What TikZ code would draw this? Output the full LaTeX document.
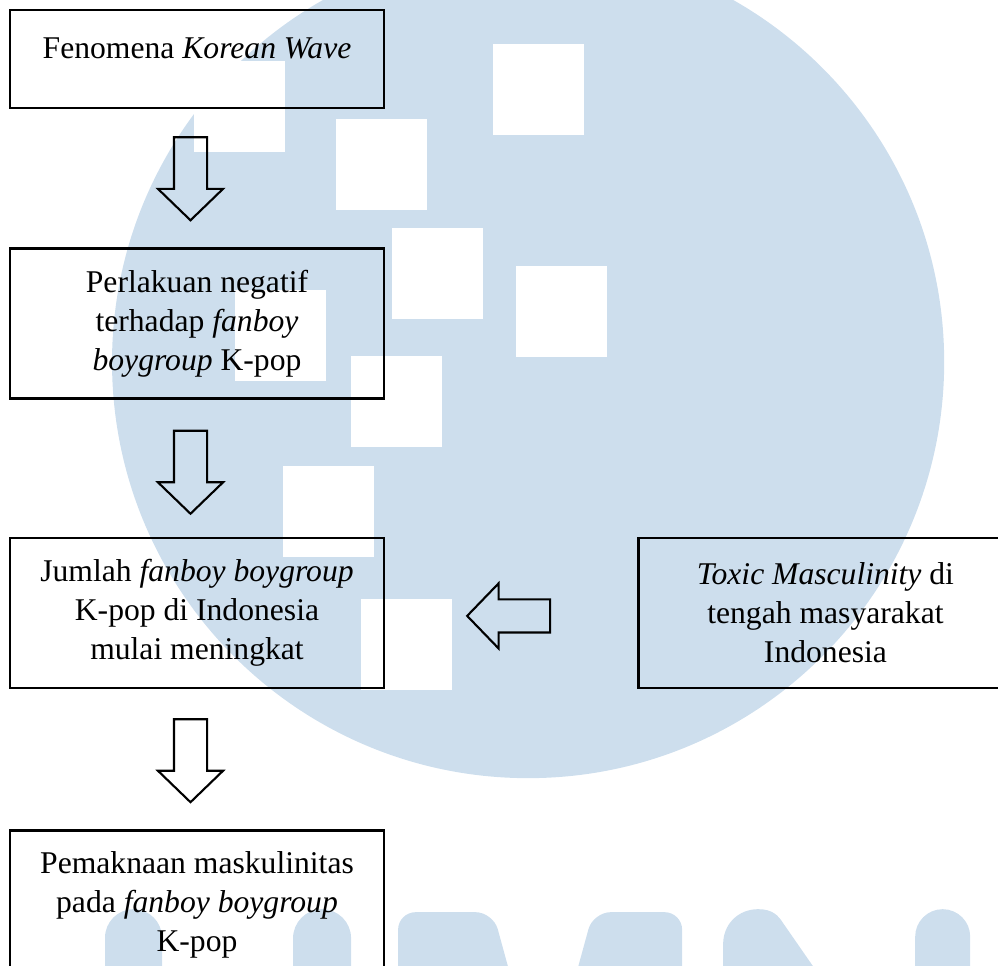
\documentclass[tikz,border=0pt]{standalone}
\usepackage{fontspec}
\setmainfont{Liberation Serif}
\usetikzlibrary{shapes.arrows, positioning}

\definecolor{wmblue}{RGB}{205,222,237}

\begin{document}
\begin{tikzpicture}[
  flowbox/.style={draw, line width=1.4pt, minimum width=7.48cm, minimum height=3cm, inner sep=2pt, align=center, font=\fontsize{18}{22.2}\selectfont},
  blockarrow/.style={draw, line width=1.2pt, single arrow, inner sep=0.31cm, minimum height=1.66cm, single arrow head extend=0.32cm, single arrow tip angle=92, anchor=tail},
  wm/.style={fill=wmblue},
  px/.style={x=0.02cm, y=-0.02cm}
]
\useasboundingbox (0,0) rectangle (19.96,-19.32);
\begin{scope}[px]
% watermark behind the chart
\fill[wm] (528,362) circle [radius=416];
\foreach \sx/\sy in {493/44, 336/119, 392/228, 516/266, 351/356, 235/290, 194/61, 283/466, 361/599}
  \fill[white] (\sx,\sy) rectangle ++(91,91);
\fill[wm] (105,985) -- (105,937.5) arc[start angle=180, end angle=360, radius=28.5] -- (162,985) -- cycle;
\fill[wm] (293,985) -- (293,938) arc[start angle=180, end angle=360, radius=29] -- (351,985) -- cycle;
\fill[wm, rounded corners=10pt] (398,985) -- (398,912) -- (493,912) -- (513,985) -- cycle;
\fill[wm, rounded corners=10pt] (573,985) -- (593,912) -- (682,912) -- (682,985) -- cycle;
\fill[wm] (723,985) -- (723,944) .. controls (723,924) and (738,909) .. (758,909) .. controls (772,909) and (778,915) .. (783,923) -- (826,985) -- cycle;
\fill[wm] (915,985) -- (915,936.5) arc[start angle=180, end angle=360, radius=27.5] -- (970,985) -- cycle;
\end{scope}

\node[flowbox, minimum height=1.96cm, text height=0.45cm, text depth=0.45cm] (kw) at (3.94,-1.18) {Fenomena \textit{Korean Wave}};
\node[flowbox] (neg) [below=2.76cm of kw] {Perlakuan negatif\\terhadap \textit{fanboy}\\\textit{boygroup} K-pop};
\node[flowbox] (jumlah) [below=2.74cm of neg] {Jumlah \textit{fanboy boygroup}\\K-pop di Indonesia\\mulai meningkat};
\node[flowbox] (toxic) [right=5.04cm of jumlah] {\textit{Toxic Masculinity} di\\tengah masyarakat\\Indonesia};
\node[flowbox] (makna) [below=2.8cm of jumlah] {Pemaknaan maskulinitas\\pada \textit{fanboy boygroup}\\K-pop};

\node[blockarrow, shape border rotate=270] (arrA) at ([xshift=-0.13cm, yshift=-0.54cm]kw.south) {};
\node[blockarrow, shape border rotate=270] (arrB) at ([xshift=-0.13cm, yshift=-0.6cm]neg.south) {};
\node[blockarrow, shape border rotate=270] (arrC) at ([xshift=-0.13cm, yshift=-0.58cm]jumlah.south) {};
\node[blockarrow, shape border rotate=180] (arrL) at ([xshift=-1.72cm, yshift=-0.06cm]toxic.west) {};
\end{tikzpicture}
\end{document}
